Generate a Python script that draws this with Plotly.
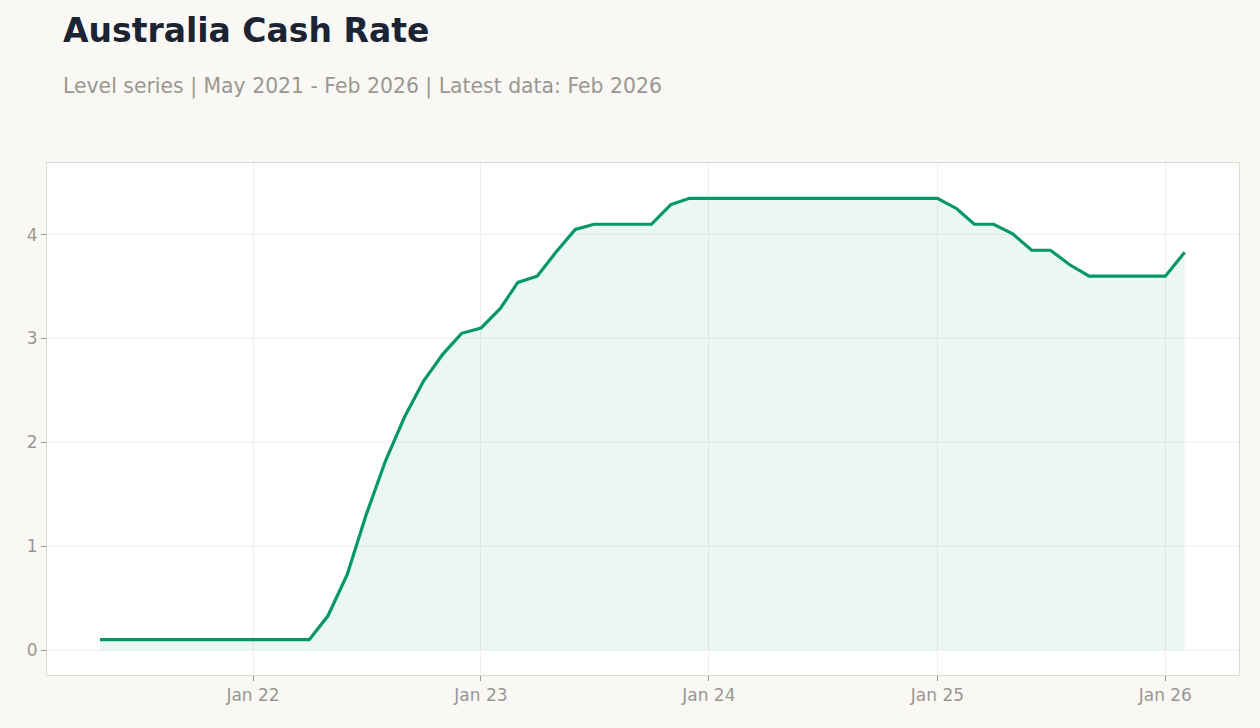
import plotly.graph_objects as go
import pandas as pd

dates = pd.date_range("2021-05-01", "2026-02-01", freq="MS").strftime("%Y-%m-%d").tolist()

cash_rate = [
    0.10, 0.10, 0.10, 0.10, 0.10, 0.10, 0.10, 0.10,          # May-Dec 2021
    0.10, 0.10, 0.10, 0.10, 0.33, 0.73, 1.30, 1.82, 2.25, 2.59, 2.85, 3.05,  # 2022
    3.10, 3.29, 3.54, 3.60, 3.83, 4.05, 4.10, 4.10, 4.10, 4.10, 4.29, 4.35,  # 2023
    4.35, 4.35, 4.35, 4.35, 4.35, 4.35, 4.35, 4.35, 4.35, 4.35, 4.35, 4.35,  # 2024
    4.35, 4.25, 4.10, 4.10, 4.01, 3.85, 3.85, 3.71, 3.60, 3.60, 3.60, 3.60,  # 2025
    3.60, 3.83,                                                # Jan-Feb 2026
]

tick_vals = ["2022-01-01", "2023-01-01", "2024-01-01", "2025-01-01", "2026-01-01"]
tick_text = ["Jan 22", "Jan 23", "Jan 24", "Jan 25", "Jan 26"]

title_text = "Australia Cash Rate"
subtitle_text = "Level series | May 2021 - Feb 2026 | Latest data: Feb 2026"

fig = go.Figure()
fig.add_trace(go.Scatter(
    x=dates, y=cash_rate, mode="lines",
    line=dict(color="#059669", width=3.2),
    fill="tozeroy", fillcolor="rgba(5,150,105,0.08)",
    hoverinfo="x+y", showlegend=False,
))

font_family = "DejaVu Sans"
tick_color = "#9a9791"
fig.update_layout(
    width=1260, height=728,
    margin=dict(l=47, r=21, t=163, b=53),
    paper_bgcolor="#f9f8f5",
    plot_bgcolor="#ffffff",
    font=dict(family=font_family, color=tick_color, size=17),
    annotations=[
        dict(text="<b>" + title_text + "</b>", xref="paper", yref="paper",
             x=0.0117, y=1.259, xanchor="left", yanchor="middle", showarrow=False,
             font=dict(family=font_family, size=33, color="#1c2333")),
        dict(text=subtitle_text, xref="paper", yref="paper",
             x=0.0117, y=1.150, xanchor="left", yanchor="middle", showarrow=False,
             font=dict(family=font_family, size=20.4, color=tick_color)),
    ],
    xaxis=dict(
        range=["2021-02-05", "2026-04-29"],
        tickvals=tick_vals, ticktext=tick_text,
        showgrid=True, gridcolor="#f0efec", gridwidth=1,
        ticks="outside", ticklen=5, tickcolor=tick_color,
        showline=True, linecolor="#ddd8d0", linewidth=1, mirror=True,
        zeroline=False, tickfont=dict(size=17, color=tick_color),
    ),
    yaxis=dict(
        range=[-0.24, 4.69],
        tickvals=[0, 1, 2, 3, 4],
        showgrid=True, gridcolor="#f0efec", gridwidth=1,
        ticks="outside", ticklen=5, tickcolor=tick_color,
        showline=True, linecolor="#ddd8d0", linewidth=1, mirror=True,
        zeroline=False, tickfont=dict(size=17, color=tick_color),
    ),
)

fig.write_html("out.html")
